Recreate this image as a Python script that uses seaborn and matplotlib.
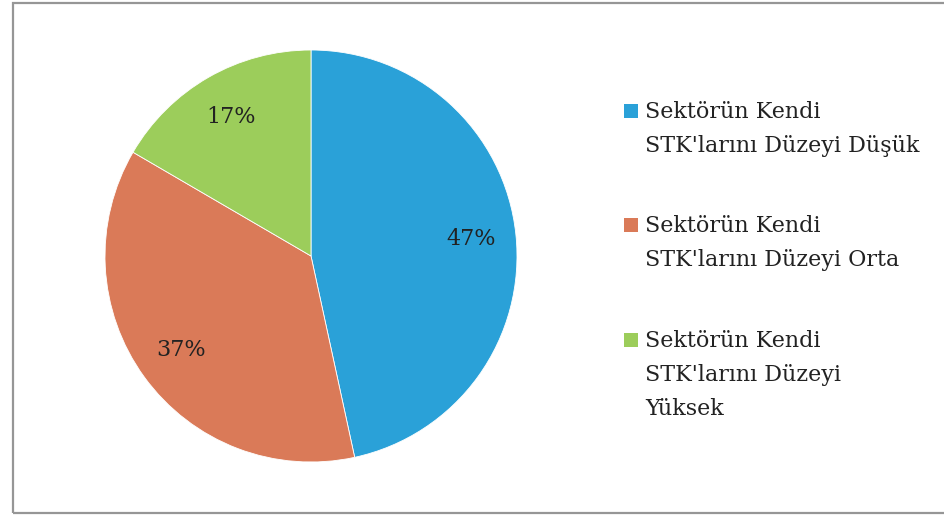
import matplotlib
matplotlib.use("Agg")
import matplotlib.pyplot as plt
from matplotlib.patches import Rectangle
import seaborn as sns

# Data
labels = [
    "Sektörün Kendi\nSTK'larını Düzeyi Düşük",
    "Sektörün Kendi\nSTK'larını Düzeyi Orta",
    "Sektörün Kendi\nSTK'larını Düzeyi\nYüksek",
]
shares = [46.6, 36.8, 16.6]
colors = ["#2aa1d8", "#da7a58", "#9ccd5b"]

sns.set_style("white")
plt.rcParams['font.family'] = ['DejaVu Serif']
text_color = "#222222"

W, H = 944, 515
fig = plt.figure(figsize=(W / 100, H / 100), dpi=100)

# frame around the chart area
fig.patches.append(Rectangle((12.5 / W, 2.5 / H), 1.0, (H - 5.5) / H,
                             transform=fig.transFigure, fill=False,
                             edgecolor="#969696", linewidth=1.6))

# pie axes: center (311, 256), radius 206 px
ax = fig.add_axes([105 / W, 1 - 462 / H, 412 / W, 412 / H])
wedges, texts, autotexts = ax.pie(
    shares, colors=colors, startangle=90, counterclock=False,
    autopct='%.0f%%', pctdistance=0.78,
    wedgeprops=dict(edgecolor="white", linewidth=0.6),
    textprops=dict(color=text_color, fontsize=16))
ax.set_xlim(-1, 1)
ax.set_ylim(-1, 1)
ax.set_aspect('equal')
ax.axis('off')

# legend, drawn by hand so the swatch sits on the first line
tops = [104, 218, 333]
for lab, col, top in zip(labels, colors, tops):
    fig.patches.append(Rectangle((624 / W, 1 - (top + 14) / H), 14 / W, 14 / H,
                                 transform=fig.transFigure, facecolor=col,
                                 edgecolor='none'))
    fig.text(645 / W, 1 - (top - 3) / H, lab, ha='left', va='top',
             fontsize=16, color=text_color, linespacing=1.7)

fig.savefig("out.png", dpi=100)
